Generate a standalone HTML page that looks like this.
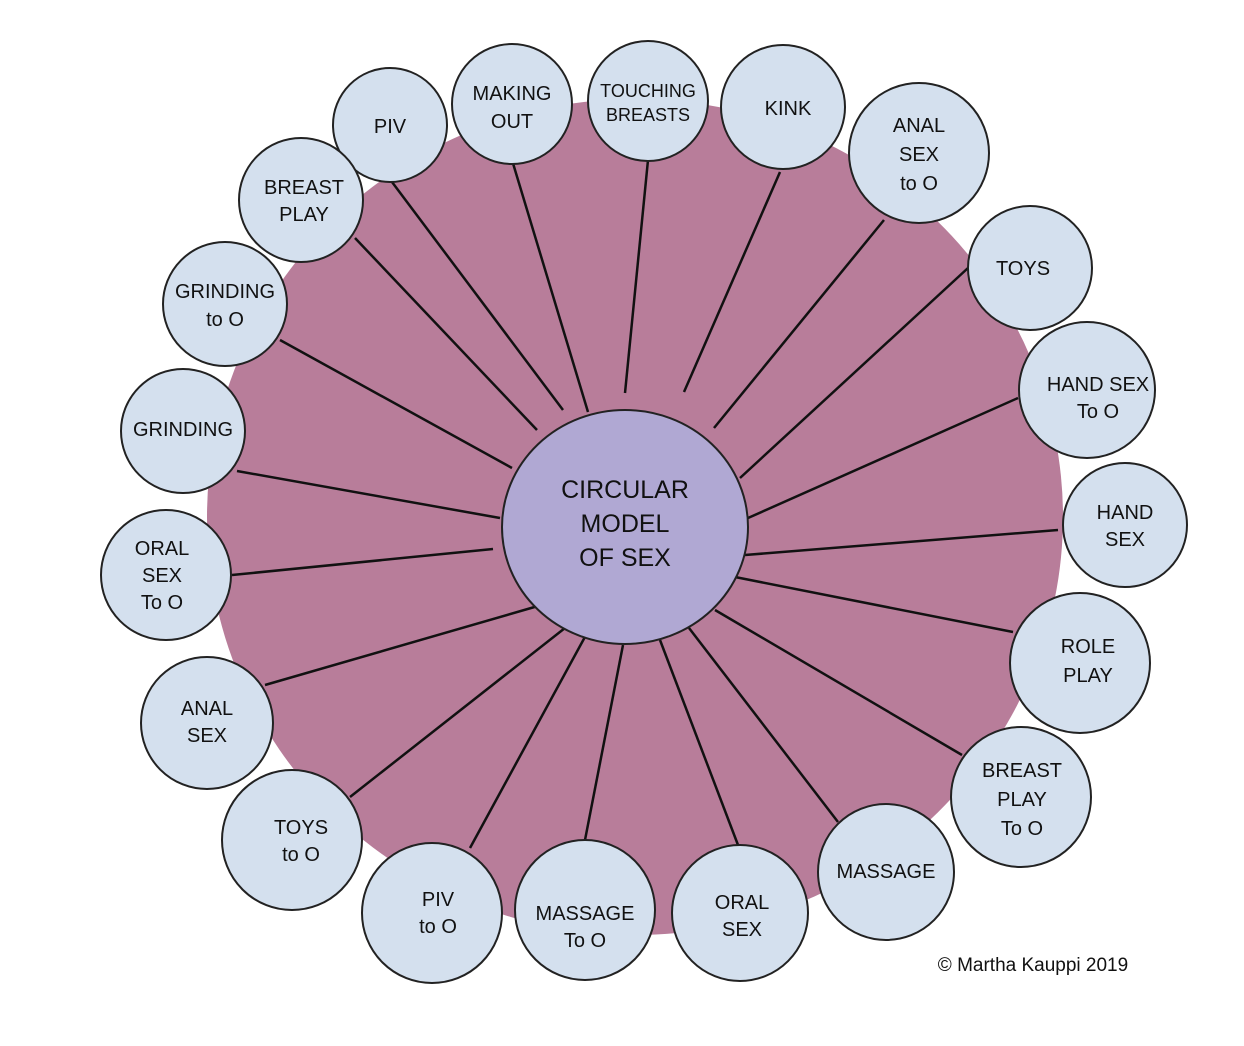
<!DOCTYPE html>
<html><head><meta charset="utf-8"><style>
html,body{margin:0;padding:0;background:#fff;}
svg{display:block;}
text{font-family:"Liberation Sans",sans-serif;font-size:20px;fill:#111;text-anchor:middle;}
</style></head><body>
<svg width="1244" height="1046" viewBox="0 0 1244 1046" xmlns="http://www.w3.org/2000/svg">
<ellipse cx="635" cy="517" rx="428" ry="418" fill="#b87d9a"/>
<g stroke="#111" stroke-width="2.5">
<line x1="392" y1="182" x2="563" y2="410"/>
<line x1="512" y1="160" x2="588" y2="412"/>
<line x1="648" y1="160" x2="625" y2="393"/>
<line x1="780" y1="172" x2="684" y2="392"/>
<line x1="884" y1="220" x2="714" y2="428"/>
<line x1="968" y1="268" x2="740" y2="478"/>
<line x1="1018" y1="398" x2="748" y2="518"/>
<line x1="1058" y1="530" x2="745" y2="555"/>
<line x1="1013" y1="632" x2="735" y2="577"/>
<line x1="962" y1="755" x2="715" y2="610"/>
<line x1="838" y1="822" x2="689" y2="628"/>
<line x1="738" y1="845" x2="660" y2="640"/>
<line x1="585" y1="840" x2="623" y2="645"/>
<line x1="470" y1="848" x2="586" y2="635"/>
<line x1="350" y1="797" x2="565" y2="628"/>
<line x1="265" y1="685" x2="538" y2="606"/>
<line x1="232" y1="575" x2="493" y2="549"/>
<line x1="237" y1="471" x2="500" y2="518"/>
<line x1="280" y1="340" x2="512" y2="468"/>
<line x1="355" y1="238" x2="537" y2="430"/>
</g>
<ellipse cx="625" cy="527" rx="123" ry="117" fill="#b0a8d3" stroke="#222" stroke-width="2"/>
<text x="625" y="498" style="font-size:25px">CIRCULAR</text>
<text x="625" y="532" style="font-size:25px">MODEL</text>
<text x="625" y="566" style="font-size:25px">OF SEX</text>
<g fill="#d4e0ee" stroke="#222" stroke-width="2">
<circle cx="390" cy="125" r="57"/>
<circle cx="512" cy="104" r="60"/>
<circle cx="648" cy="101" r="60"/>
<circle cx="783" cy="107" r="62"/>
<circle cx="919" cy="153" r="70"/>
<circle cx="1030" cy="268" r="62"/>
<circle cx="1087" cy="390" r="68"/>
<circle cx="1125" cy="525" r="62"/>
<circle cx="1080" cy="663" r="70"/>
<circle cx="1021" cy="797" r="70"/>
<circle cx="886" cy="872" r="68"/>
<circle cx="740" cy="913" r="68"/>
<circle cx="585" cy="910" r="70"/>
<circle cx="432" cy="913" r="70"/>
<circle cx="292" cy="840" r="70"/>
<circle cx="207" cy="723" r="66"/>
<circle cx="166" cy="575" r="65"/>
<circle cx="183" cy="431" r="62"/>
<circle cx="225" cy="304" r="62"/>
<circle cx="301" cy="200" r="62"/>
</g>
<text x="390" y="133">PIV</text>
<text x="512" y="100">MAKING</text><text x="512" y="128">OUT</text>
<text x="648" y="97" style="font-size:18px">TOUCHING</text><text x="648" y="121" style="font-size:18px">BREASTS</text>
<text x="788" y="115">KINK</text>
<text x="919" y="132">ANAL</text><text x="919" y="161">SEX</text><text x="919" y="190">to O</text>
<text x="1023" y="275">TOYS</text>
<text x="1098" y="391">HAND SEX</text><text x="1098" y="418">To O</text>
<text x="1125" y="519">HAND</text><text x="1125" y="546">SEX</text>
<text x="1088" y="653">ROLE</text><text x="1088" y="682">PLAY</text>
<text x="1022" y="777">BREAST</text><text x="1022" y="806">PLAY</text><text x="1022" y="835">To O</text>
<text x="886" y="878">MASSAGE</text>
<text x="742" y="909">ORAL</text><text x="742" y="936">SEX</text>
<text x="585" y="920">MASSAGE</text><text x="585" y="947">To O</text>
<text x="438" y="906">PIV</text><text x="438" y="933">to O</text>
<text x="301" y="834">TOYS</text><text x="301" y="861">to O</text>
<text x="207" y="715">ANAL</text><text x="207" y="742">SEX</text>
<text x="162" y="555">ORAL</text><text x="162" y="582">SEX</text><text x="162" y="609">To O</text>
<text x="183" y="436">GRINDING</text>
<text x="225" y="298">GRINDING</text><text x="225" y="326">to O</text>
<text x="304" y="194">BREAST</text><text x="304" y="221">PLAY</text>
<text x="1033" y="971" style="font-size:19px">© Martha Kauppi 2019</text>
</svg>
</body></html>
